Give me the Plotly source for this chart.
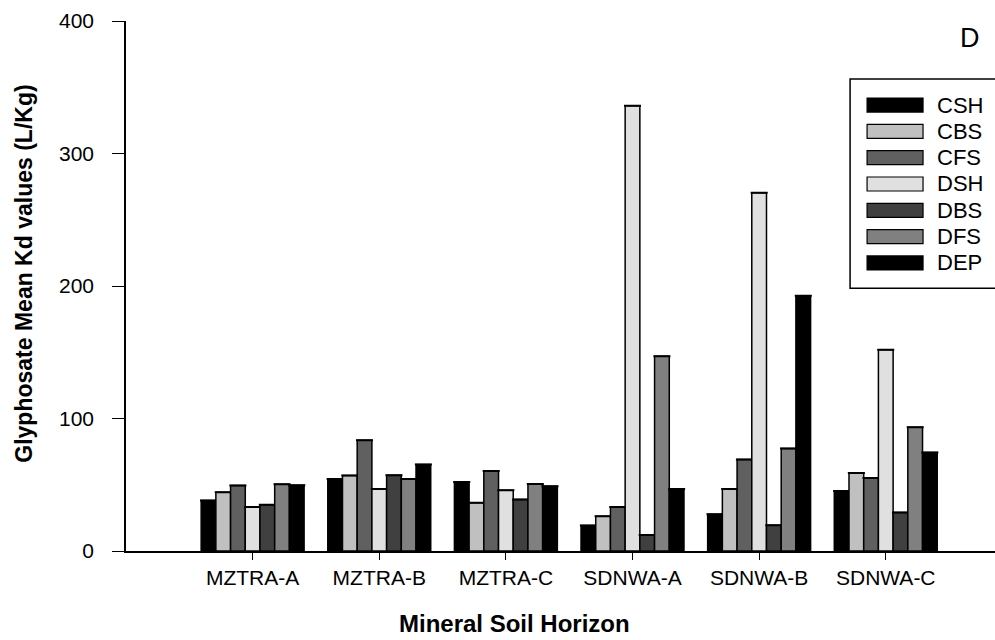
import plotly.graph_objects as go

# Soil horizons (x categories)
horizons = ["MZTRA-A", "MZTRA-B", "MZTRA-C", "SDNWA-A", "SDNWA-B", "SDNWA-C"]

# Glyphosate mean Kd (L/Kg) per treatment
csh = [38.1, 54.4, 52.1, 19.2, 27.7, 45.3]
cbs = [44.3, 56.9, 36.5, 26.2, 46.8, 58.9]
cfs = [49.4, 83.6, 60.4, 33.2, 69.0, 55.1]
dsh = [33.2, 46.8, 45.8, 336.1, 270.4, 151.8]
dbs = [35.0, 57.2, 38.8, 12.1, 19.4, 29.0]
dfs = [50.4, 54.4, 50.6, 147.0, 77.3, 93.4]
dep = [49.6, 65.2, 48.9, 46.8, 192.6, 74.3]

series_names = ["CSH", "CBS", "CFS", "DSH", "DBS", "DFS", "DEP"]
series_values = [csh, cbs, cfs, dsh, dbs, dfs, dep]
series_colors = ["#000000", "#c0c0c0", "#606060", "#e0e0e0", "#404040", "#808080", "#000000"]

y_ticks = [0, 100, 200, 300, 400]

FONT = "Liberation Sans, Arial, sans-serif"

fig = go.Figure()
for name, vals, col in zip(series_names, series_values, series_colors):
    fig.add_trace(go.Bar(
        name=name, x=horizons, y=vals,
        marker=dict(color=col, line=dict(color="#000000", width=1.5)),
        error_y=dict(type="constant", value=0, width=8.5, thickness=2, color="#000000"),
        showlegend=False,
    ))

# Layout geometry (pixels) for the plotting area
W, H = 995, 640
L, T, B = 125.5, 21, 89.3
pw, ph = W - L, H - T - B
slot = 126.7


def px_x(x):
    return (x - L) / pw


def px_y(y):
    return (H - B - y) / ph


shapes = []
annotations = []

# Legend box and entries
shapes.append(dict(type="rect", xref="paper", yref="paper",
                   x0=px_x(850), x1=px_x(1010), y0=px_y(288), y1=px_y(79),
                   line=dict(color="#000000", width=1.5), fillcolor="#ffffff", layer="above"))
for i, (name, col) in enumerate(zip(series_names, series_colors)):
    cy = 105 + i * 26.3
    shapes.append(dict(type="rect", xref="paper", yref="paper",
                       x0=px_x(867), x1=px_x(923), y0=px_y(cy + 7), y1=px_y(cy - 7),
                       line=dict(color="#000000", width=1.2), fillcolor=col, layer="above"))
    annotations.append(dict(text=name, xref="paper", yref="paper", x=px_x(935), y=px_y(cy),
                            xanchor="left", yanchor="middle", showarrow=False,
                            font=dict(family=FONT, size=22, color="#000000")))

# Panel letter
annotations.append(dict(text="D", xref="paper", yref="paper", x=px_x(970), y=px_y(38),
                        xanchor="center", yanchor="middle", showarrow=False,
                        font=dict(family=FONT, size=27, color="#000000")))

# Axis titles
annotations.append(dict(text="<b>Glyphosate Mean Kd values (L/Kg)</b>", xref="paper", yref="paper",
                        x=px_x(24), y=px_y(274), textangle=-90,
                        xanchor="center", yanchor="middle", showarrow=False,
                        font=dict(family=FONT, size=23, color="#000000")))
annotations.append(dict(text="<b>Mineral Soil Horizon</b>", xref="paper", yref="paper",
                        x=px_x(514), y=px_y(623),
                        xanchor="center", yanchor="middle", showarrow=False,
                        font=dict(family=FONT, size=24, color="#000000")))

fig.update_layout(
    width=W, height=H,
    margin=dict(l=L, r=0, t=T, b=B, pad=0),
    paper_bgcolor="#ffffff", plot_bgcolor="#ffffff",
    barmode="group", bargap=0.187, bargroupgap=0,
    font=dict(family=FONT, size=21, color="#000000"),
    shapes=shapes, annotations=annotations,
    showlegend=False,
)
fig.update_xaxes(
    type="category", range=[-1, pw / slot - 1],
    showline=True, linecolor="#000000", linewidth=1.5,
    ticks="outside", ticklen=7, tickwidth=1.2, tickcolor="#000000",
    showgrid=False, zeroline=False,
    tickfont=dict(family=FONT, size=21, color="#000000"),
)
fig.update_yaxes(
    range=[0, 400], tickvals=y_ticks,
    showline=True, linecolor="#000000", linewidth=1.5,
    ticks="outside", ticklen=12, tickwidth=1.2, tickcolor="#000000",
    showgrid=False, zeroline=False, ticklabelstandoff=14,
    tickfont=dict(family=FONT, size=21, color="#000000"),
)

fig.write_html("out.html")
